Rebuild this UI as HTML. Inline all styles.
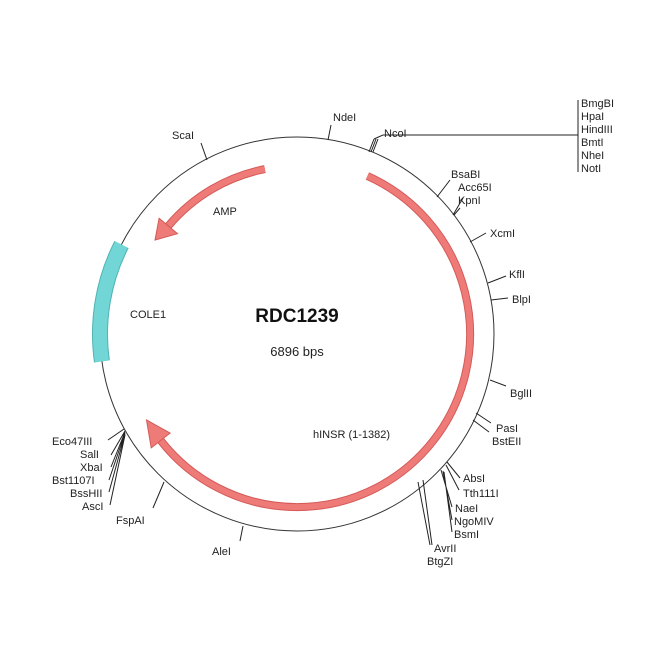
<!DOCTYPE html>
<html><head><style>body{margin:0;background:#fff}svg{display:block}text{font-family:"Liberation Sans",sans-serif;font-size:11px;fill:#222}</style></head>
<body>
<svg width="650" height="650" viewBox="0 0 650 650">
<circle cx="297" cy="334" r="197" fill="none" stroke="#333" stroke-width="1"/>
<!-- COLE1 -->
<path d="M121.5,244.6 A197,197 0 0 0 101.9,361.4" fill="none" stroke="#4fb3b3" stroke-width="16"/>
<path d="M121.5,244.6 A197,197 0 0 0 101.9,361.4" fill="none" stroke="#72d6d6" stroke-width="14"/>
<!-- hINSR -->
<path d="M367.4,176 A173,173 0 1 1 160.7,440.5" fill="none" stroke="#d45a58" stroke-width="8"/>
<path d="M367.4,176 A173,173 0 1 1 160.7,440.5" fill="none" stroke="#ee7b78" stroke-width="6"/>
<polygon points="151.2,447.9 170.1,433.1 146.5,420" fill="#ee7b78" stroke="#d45a58" stroke-width="1"/>
<!-- AMP -->
<path d="M264.9,169.1 A168,168 0 0 0 168.3,226" fill="none" stroke="#d45a58" stroke-width="8"/>
<path d="M264.9,169.1 A168,168 0 0 0 168.3,226" fill="none" stroke="#ee7b78" stroke-width="6"/>
<polygon points="159.1,218.3 177.5,233.7 155,240" fill="#ee7b78" stroke="#d45a58" stroke-width="1"/>
<g stroke="#222" stroke-width="1" fill="none">
<path d="M328,140 L331,125"/>
<path d="M369,152 L374,139 M371,152 L376,139 M373,152 L378,139 M374,139 L383,135 L578,135 M578,100 L578,172"/>
<path d="M207,160 L201,143"/>
<path d="M437,197 L450,180"/>
<path d="M453,215 L463,198 M454,215 L460,208"/>
<path d="M470,242 L486,233"/>
<path d="M488,283 L506,276"/>
<path d="M491,300 L508,298"/>
<path d="M490,380 L506,386"/>
<path d="M476,413 L491,423 M473,420 L489,432"/>
<path d="M447,462 L460,478 M446,465 L459,490 M441,470 L452,507 M443,471 L452,520 M444,472 L452,532"/>
<path d="M418,482 L430,545 M423,480 L432,545"/>
<path d="M124,429 L108,440 M125,431 L111,455 M125,432 L111,467 M125,433 L109,480 M125,434 L109,492 M125,435 L110,505"/>
<path d="M164,482 L153,508"/>
<path d="M243,526 L240,541"/>
</g>
<text x="333" y="121">NdeI</text>
<text x="384" y="137">NcoI</text>
<text x="581" y="107">BmgBI</text>
<text x="581" y="120">HpaI</text>
<text x="581" y="133">HindIII</text>
<text x="581" y="146">BmtI</text>
<text x="581" y="159">NheI</text>
<text x="581" y="172">NotI</text>
<text x="172" y="139">ScaI</text>
<text x="451" y="178">BsaBI</text>
<text x="458" y="191">Acc65I</text>
<text x="458" y="204">KpnI</text>
<text x="490" y="237">XcmI</text>
<text x="509" y="278">KflI</text>
<text x="512" y="303">BlpI</text>
<text x="510" y="397">BglII</text>
<text x="496" y="432">PasI</text>
<text x="492" y="445">BstEII</text>
<text x="463" y="482">AbsI</text>
<text x="463" y="497">Tth111I</text>
<text x="455" y="512">NaeI</text>
<text x="454" y="525">NgoMIV</text>
<text x="454" y="538">BsmI</text>
<text x="434" y="552">AvrII</text>
<text x="427" y="565">BtgZI</text>
<text x="52" y="445">Eco47III</text>
<text x="80" y="458">SalI</text>
<text x="80" y="471">XbaI</text>
<text x="52" y="484">Bst1107I</text>
<text x="70" y="497">BssHII</text>
<text x="82" y="510">AscI</text>
<text x="116" y="524">FspAI</text>
<text x="212" y="555">AleI</text>
<text x="313" y="438">hINSR (1-1382)</text>
<text x="130" y="318">COLE1</text>
<text x="213" y="215">AMP</text>
<text x="297" y="322" text-anchor="middle" style="font-size:19px;font-weight:bold;fill:#111">RDC1239</text>
<text x="297" y="356" text-anchor="middle" style="font-size:13px">6896 bps</text>
</svg>
</body></html>
